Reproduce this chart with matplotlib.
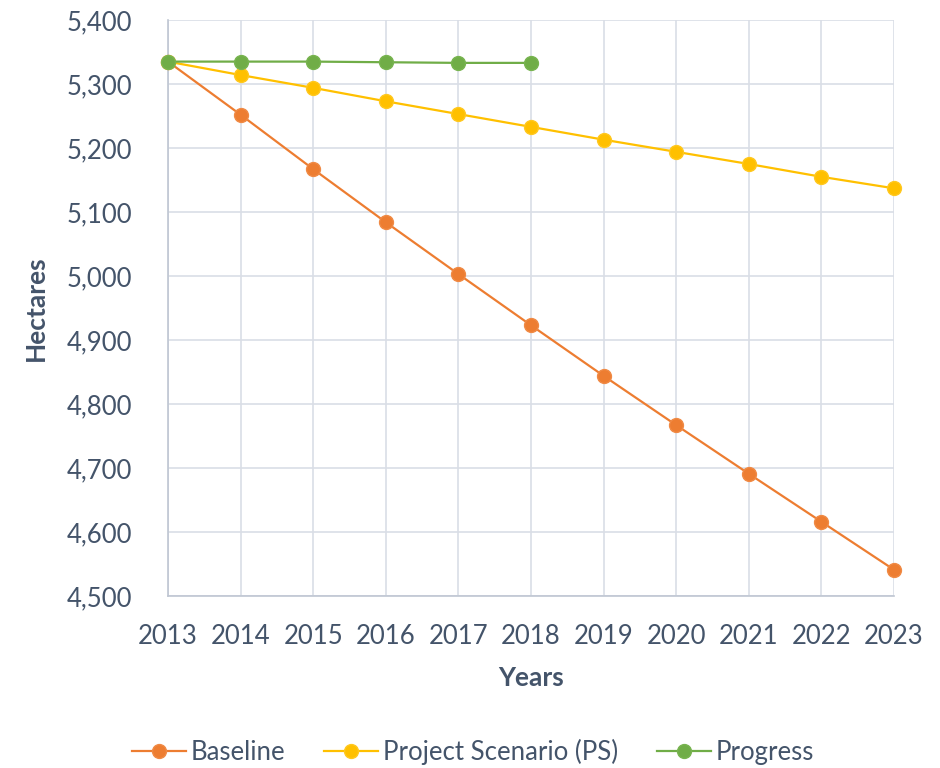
import matplotlib
matplotlib.use("Agg")
import matplotlib.pyplot as plt

years = [2013, 2014, 2015, 2016, 2017, 2018, 2019, 2020, 2021, 2022, 2023]
baseline = [5335, 5252, 5167, 5084, 5003, 4923, 4844, 4767, 4691, 4616, 4541]
project = [5335, 5314, 5294, 5273, 5253, 5233, 5213, 5194, 5175, 5155, 5137]
progress_years = [2013, 2014, 2015, 2016, 2017, 2018]
progress = [5335, 5335, 5335, 5334, 5333, 5333]
yticks = [4500, 4600, 4700, 4800, 4900, 5000, 5100, 5200, 5300, 5400]

plt.rcParams['font.family'] = ['Lato', 'DejaVu Sans']
txt = '#44546A'

fig = plt.figure(figsize=(9.4, 7.68), dpi=100)
ax = fig.add_axes([168/940, 1-596/768, (894-168)/940, (596-20)/768])

ax.plot(years, baseline, color='#ED7D31', lw=1.6, marker='o', ms=10,
        markerfacecolor='#ED7D31', markeredgecolor='#F08A45', label='Baseline',
        zorder=3, clip_on=False)
ax.plot(years, project, color='#FFC000', lw=1.6, marker='o', ms=10,
        markerfacecolor='#FFC000', markeredgecolor='#FFC820', label='Project Scenario (PS)',
        zorder=3, clip_on=False)
ax.plot(progress_years, progress, color='#70AD47', lw=1.6, marker='o', ms=10,
        markerfacecolor='#70AD47', markeredgecolor='#78B450', label='Progress',
        zorder=4, clip_on=False)

ax.set_xlim(2013, 2023)
ax.set_ylim(4500, 5400)
ax.set_xticks(years)
ax.set_xticklabels([str(y) for y in years])
ax.set_yticks(yticks)
ax.set_yticklabels([f'{v:,}' for v in yticks])
ax.grid(True, color='#D9DEE6', lw=1.2)
ax.set_axisbelow(True)
for s in ['top', 'right']:
    ax.spines[s].set_visible(False)
for s in ['left', 'bottom']:
    ax.spines[s].set_color('#BFC6D2')
    ax.spines[s].set_linewidth(1.2)
ax.tick_params(length=0, labelsize=18.5, colors=txt)
ax.tick_params(axis='x', pad=20)
ax.tick_params(axis='y', pad=26)

fig.text(531/940, 1-678/768, 'Years', fontsize=19, fontweight='bold', color=txt,
         ha='center', va='center')
fig.text(36/940, 1-308/768, 'Hectares', fontsize=19, fontweight='bold', color=txt,
         ha='center', va='center', rotation=90)

leg = fig.legend(loc='center', bbox_to_anchor=(473/940, 1-752/768), ncol=3, frameon=False,
                 fontsize=18.5, labelcolor=txt, handlelength=2.1, columnspacing=1.5,
                 handletextpad=0.2, markerscale=1.0)

fig.savefig('out.png', dpi=100)
